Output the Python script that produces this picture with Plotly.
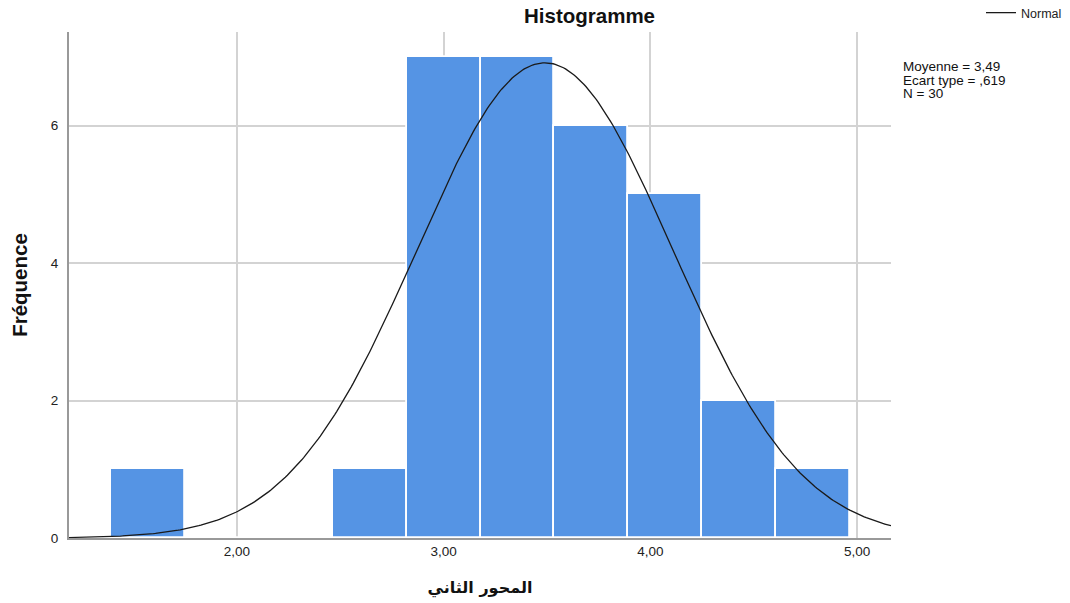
import numpy as np
import plotly.graph_objects as go

# Histogram data
bin_start = 1.391
bin_width = 0.3575
counts = [1, 0, 0, 1, 7, 7, 6, 5, 2, 1]
mean_val = 3.49
sd_val = 0.619
n_obs = 30
x_ticks = [2, 3, 4, 5]
y_ticks = [0, 2, 4, 6]
x_range = [1.188, 5.164]
y_range = [0, 7.36]
stats_lines = ["Moyenne = 3,49", "Ecart type = ,619", "N = 30"]

centers = [bin_start + bin_width * (i + 0.5) for i in range(len(counts))]

xs = np.linspace(x_range[0], x_range[1], 400)
ys = n_obs * bin_width / (sd_val * np.sqrt(2 * np.pi)) * np.exp(-0.5 * ((xs - mean_val) / sd_val) ** 2)

fig = go.Figure()
fig.add_trace(go.Bar(
    x=centers, y=counts, width=bin_width,
    marker=dict(color="#5594e4", line=dict(color="white", width=1.8)),
    showlegend=False, hoverinfo="x+y"))
fig.add_trace(go.Scatter(
    x=xs, y=ys, mode="lines", name="Normal",
    line=dict(color="#1a1a1a", width=1.3)))

W, H = 1070, 603
ml, mr, mt, mb = 69, 179, 32, 65
plot_h = H - mt - mb
plot_w = W - ml - mr


def py(px):  # page pixel y -> paper y
    return 1 - (px - mt) / plot_h


def pxx(px):  # page pixel x -> paper x
    return (px - ml) / plot_w


annotations = [
    dict(text="<b>Histogramme</b>", xref="paper", yref="paper",
         x=pxx(589), y=py(16), xanchor="center", yanchor="middle",
         showarrow=False, font=dict(size=20.5, color="#111")),
]
for i, line in enumerate(stats_lines):
    annotations.append(dict(text=line, xref="paper", yref="paper",
                            x=pxx(901), y=py(66 + 14 * i), xanchor="left", yanchor="middle",
                            align="left", showarrow=False,
                            font=dict(size=13.5, color="#111")))

font_family = "Liberation Sans, Arial, sans-serif"
fig.update_layout(
    width=W, height=H,
    margin=dict(l=ml, r=mr, t=mt, b=mb, autoexpand=False),
    paper_bgcolor="white", plot_bgcolor="white",
    separators=",.",
    font=dict(family=font_family, color="#222"),
    bargap=0,
    showlegend=True,
    legend=dict(x=pxx(981), y=py(13), xanchor="left", yanchor="middle",
                font=dict(size=12.5, color="#222"), bgcolor="rgba(0,0,0,0)",
                itemwidth=30),
    xaxis=dict(range=x_range, tickvals=x_ticks, tickformat=".2f",
               showgrid=True, gridcolor="#d3d3d3", gridwidth=1.5,
               showline=True, linecolor="#999", linewidth=2,
               ticks="", zeroline=False,
               tickfont=dict(size=13.5, color="#222"),
               title=dict(text="<b>المحور الثاني</b>", font=dict(size=16, color="#111",
                          family="DejaVu Sans, Noto Sans, sans-serif"), standoff=24)),
    yaxis=dict(range=y_range, tickvals=y_ticks,
               showgrid=True, gridcolor="#d3d3d3", gridwidth=1.5,
               showline=True, linecolor="#999", linewidth=2,
               ticks="", zeroline=False, ticklabelstandoff=6,
               tickfont=dict(size=13.5, color="#222"),
               title=dict(text="<b>Fréquence</b>", font=dict(size=20.5, color="#111"), standoff=18)),
    annotations=annotations,
)

fig.write_html("out.html", config={"displayModeBar": False},
               post_script="document.body.style.margin='0px';")
